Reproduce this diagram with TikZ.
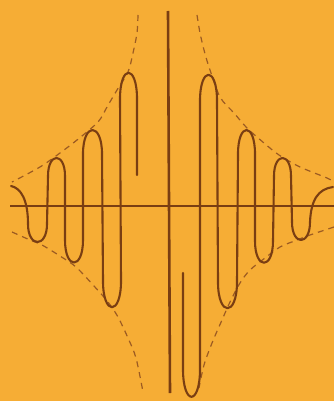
\documentclass[tikz,border=0pt]{standalone}
\definecolor{bgcol}{HTML}{F6AD35}
\definecolor{inkcol}{HTML}{7A3E12}
\definecolor{dashcol}{HTML}{9C5B22}
\tikzset{
  axisline/.style={draw=inkcol, line width=2.6pt},
  wave/.style={draw=inkcol, line width=2.1pt, line join=round, line cap=round},
  envelope/.style={draw=dashcol, line width=1.2pt, dash pattern=on 6pt off 5pt},
}
\begin{document}
\begin{tikzpicture}[x=1pt,y=-1pt]
\useasboundingbox (0,0) rectangle (334,401);
\fill[bgcol] (0,0) rectangle (334,401);
% axes
\coordinate (hl) at (10,206);
\coordinate (hr) at (334,206);
\coordinate (vt) at (168,11);
\coordinate (vb) at (170,393);
\draw[axisline] (hl) -- (hr);
\draw[axisline] (vt) -- (vb);
% envelopes
\draw[envelope] plot[smooth] coordinates {(138,15) (137,33) (133,53) (128,72) (117,90) (107,107) (98,122) (77,140) (60,153) (40,167) (12,182)};
\draw[envelope] plot[smooth] coordinates {(197,15) (200,33) (204,50) (209,67) (220,97) (234,113) (247,128) (264,143) (279,155) (300,167) (327,178) (334,182)};
\draw[envelope] plot[smooth] coordinates {(12,232) (30,240) (42,245) (60,256) (76,267) (94,286) (108,302) (118,317) (128,338) (136,358) (143,392)};
\draw[envelope] plot[smooth] coordinates {(334,227) (310,235) (297,240) (280,247) (265,258) (250,270) (240,283) (230,302) (222,320) (212,343) (204,365) (199,388)};
% left wave
\coordinate (ls) at (11,186);
\coordinate (le) at (137,175);
\draw[wave] (ls) .. controls (21,188) and (28,200) .. (28,224)
  .. controls (28,248) and (47,248) .. (47,224)
  -- (48,176) .. controls (48,152) and (65,152) .. (65,176)
  -- (65,240) .. controls (65,270) and (83,270) .. (83,240)
  -- (83,154) .. controls (83,122) and (102,122) .. (102,154)
  -- (103,281) .. controls (103,316) and (121,316) .. (121,281)
  -- (120,99) .. controls (120,64) and (137,64) .. (137,99)
  -- (le);
% right wave
\coordinate (rs) at (183,273);
\coordinate (re) at (333,187);
\draw[wave] (rs) -- (183,369) .. controls (183,406) and (200,406) .. (200,369)
  -- (200,101) .. controls (200,66) and (217,66) .. (217,101)
  -- (218,282) .. controls (218,317) and (237,317) .. (237,282)
  -- (238,154) .. controls (238,122) and (255,122) .. (255,154)
  -- (255,241) .. controls (255,270) and (273,270) .. (273,241)
  -- (274,176) .. controls (274,152) and (291,152) .. (291,176)
  -- (292,222) .. controls (292,246) and (310,246) .. (310,222)
  .. controls (311,200) and (318,189) .. (re);
\end{tikzpicture}
\end{document}
